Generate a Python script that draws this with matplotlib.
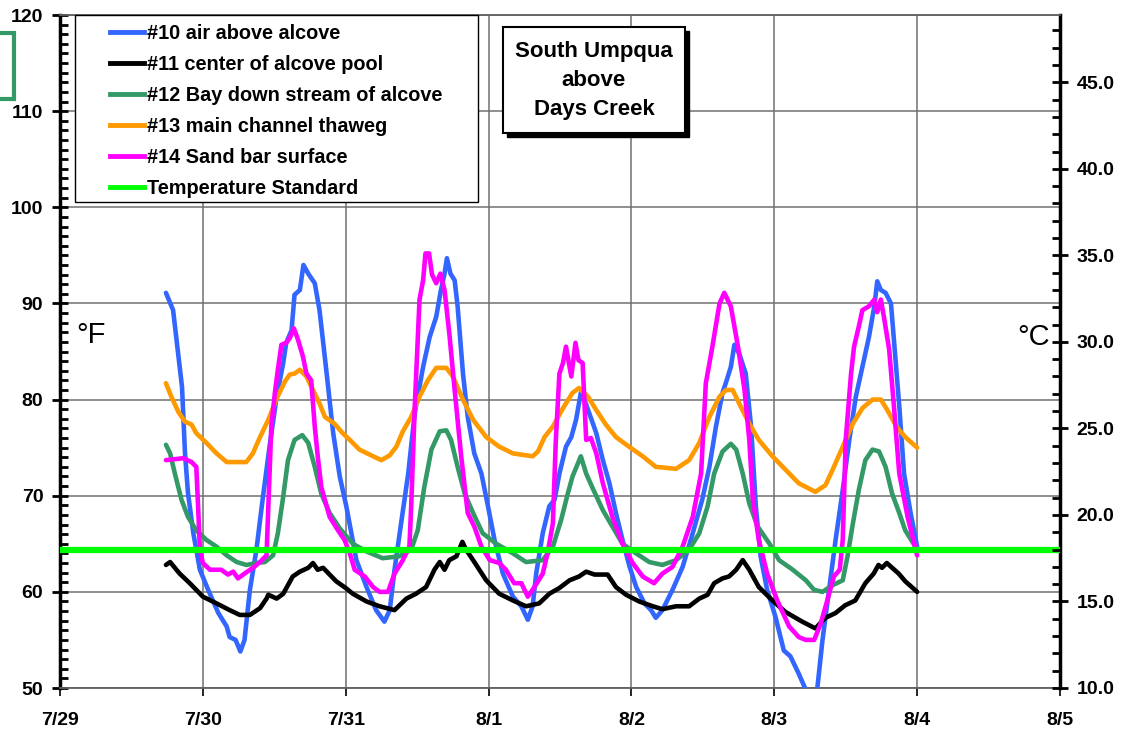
import numpy as np
import matplotlib
matplotlib.use("Agg")
import matplotlib.pyplot as plt
from matplotlib.patches import Rectangle
from matplotlib.lines import Line2D
from matplotlib.ticker import MultipleLocator, FuncFormatter

plt.rcParams['font.family'] = ['Liberation Sans', 'DejaVu Sans']

# hours since 7/29 00:00 and temperatures in deg F
air_h = [17.8, 19.0, 19.9, 20.5, 21.0, 21.5, 22.4, 23.5, 24.9, 26.6,
         28.0, 28.5, 29.5, 30.3, 31.0, 31.9, 33.0, 34.1, 35.2, 36.4,
         37.5, 38.0, 38.9, 39.4, 40.3, 40.9, 41.7, 42.8, 43.6, 44.8,
         45.9, 47.0, 48.1, 49.8, 51.5, 53.1, 54.5, 55.4, 56.2, 57.3,
         58.5, 59.6, 61.0, 62.1, 63.2, 64.0, 64.6, 65.0, 65.6, 66.3,
         66.8, 67.7, 68.5, 69.6, 70.8, 71.9, 73.0, 74.4, 76.1, 77.5,
         78.6, 79.4, 80.0, 81.1, 82.2, 83.1, 83.9, 85.0, 85.9, 86.7,
         87.5, 88.1, 88.9, 90.1, 91.2, 92.3, 93.4, 94.5, 95.7, 96.8,
         98.2, 99.3, 100.1, 101.2, 102.9, 104.6, 106.3, 107.9, 109.1, 110.2,
         111.3, 112.0, 112.7, 113.3, 114.1, 115.2, 116.1, 116.9, 117.7, 118.8,
         120.2, 121.6, 122.7, 124.1, 125.3, 126.2, 127.2, 128.1, 129.2, 130.3,
         131.5, 132.6, 133.7, 134.8, 135.9, 136.8, 137.3, 137.9, 138.7, 139.6,
         140.1, 141.0, 141.8, 142.9, 144.0]
air_f = [91.1, 89.3, 84.5, 81.3, 74.4, 70.3, 66.1, 62.3, 60.2, 57.8,
         56.4, 55.3, 55.0, 53.8, 55.0, 60.2, 64.4, 69.9, 75.1, 80.3,
         83.8, 85.9, 87.2, 90.9, 91.4, 94.0, 93.1, 92.1, 89.3, 82.7,
         76.5, 72.0, 68.9, 63.3, 60.5, 58.1, 56.9, 58.1, 62.3, 67.1,
         72.3, 78.6, 83.4, 86.5, 88.6, 91.4, 93.1, 94.7, 93.1, 92.4,
         89.7, 82.7, 78.2, 74.4, 72.3, 68.9, 65.4, 61.9, 59.5, 58.5,
         57.1, 58.5, 61.9, 66.1, 68.9, 69.6, 72.3, 75.1, 76.1, 77.9,
         80.7, 80.0, 78.6, 76.5, 73.7, 71.3, 68.2, 65.4, 62.6, 60.5,
         58.8, 58.1, 57.3, 58.1, 60.2, 62.6, 66.1, 69.6, 73.0, 77.2,
         80.7, 82.0, 83.4, 85.7, 84.8, 82.7, 77.2, 68.9, 63.7, 60.2,
         57.4, 53.9, 53.3, 51.5, 49.8, 47.5, 49.8, 55.0, 60.2, 65.4,
         70.6, 75.8, 80.3, 83.4, 86.5, 89.7, 92.3, 91.4, 91.1, 90.0,
         86.2, 79.3, 72.3, 68.2, 64.7]

pool_h = [17.8, 18.5, 20.1, 21.8, 24.0, 26.3, 28.5, 30.2, 31.9, 33.6,
          34.7, 35.0, 36.4, 37.5, 39.1, 40.3, 41.7, 42.5, 43.3, 44.2,
          46.4, 48.0, 49.2, 51.5, 53.7, 56.2, 58.2, 59.8, 61.5, 62.9,
          63.8, 64.6, 65.4, 66.6, 67.6, 68.2, 69.4, 71.6, 73.8, 76.1,
          78.3, 80.5, 82.2, 83.9, 85.6, 87.2, 88.4, 89.8, 92.0, 93.4,
          95.1, 97.3, 99.6, 101.2, 103.5, 105.7, 107.4, 108.8, 109.9, 111.3,
          112.4, 113.6, 114.7, 115.8, 117.4, 119.7, 121.9, 124.7, 126.9, 128.6,
          130.3, 131.9, 133.6, 135.3, 136.7, 137.5, 138.1, 138.9, 140.9, 142.0,
          144.0]
pool_f = [62.8, 63.1, 61.9, 60.9, 59.5, 58.8, 58.1, 57.6, 57.6, 58.3,
          59.3, 59.7, 59.3, 59.8, 61.6, 62.1, 62.5, 63.0, 62.3, 62.5,
          61.1, 60.4, 59.8, 59.0, 58.5, 58.1, 59.3, 59.8, 60.5, 62.3,
          63.1, 62.3, 63.3, 63.7, 65.2, 64.4, 63.3, 61.2, 59.8, 59.1,
          58.5, 58.8, 59.8, 60.4, 61.2, 61.6, 62.1, 61.8, 61.8, 60.5,
          59.7, 59.0, 58.5, 58.2, 58.5, 58.5, 59.3, 59.7, 60.9, 61.4,
          61.6, 62.3, 63.3, 62.3, 60.5, 59.1, 57.9, 56.9, 56.2, 57.3,
          57.8, 58.6, 59.1, 60.9, 61.9, 62.8, 62.5, 63.0, 61.9, 61.1,
          60.0]

bay_h = [17.8, 18.5, 19.3, 20.4, 21.5, 22.9, 24.6, 26.3, 28.0, 29.7,
         31.3, 33.0, 34.4, 35.8, 36.6, 37.5, 38.3, 39.4, 40.7, 41.7,
         42.8, 43.9, 45.3, 47.0, 49.2, 51.5, 54.2, 57.0, 59.0, 60.1,
         61.2, 62.4, 63.8, 64.9, 65.7, 66.8, 68.0, 69.4, 71.0, 73.3,
         76.1, 78.3, 81.1, 82.8, 84.2, 85.3, 86.1, 87.5, 88.4, 89.4,
         91.2, 92.8, 94.5, 96.8, 99.0, 101.2, 103.5, 105.7, 107.4, 108.8,
         109.9, 111.3, 112.7, 113.6, 114.7, 115.8, 117.2, 119.2, 120.8, 123.1,
         125.3, 126.7, 128.1, 129.8, 131.5, 132.3, 133.2, 134.2, 135.3, 136.5,
         137.6, 138.7, 139.8, 141.0, 142.0, 144.0]
bay_f = [75.3, 74.4, 72.3, 69.6, 67.8, 66.4, 65.4, 64.7, 63.8, 63.1,
         62.8, 63.0, 63.1, 63.8, 66.1, 69.9, 73.7, 75.8, 76.3, 75.5,
         73.0, 70.2, 68.2, 66.6, 65.0, 64.2, 63.5, 63.7, 64.4, 66.4,
         70.9, 74.8, 76.7, 76.8, 75.8, 73.0, 70.2, 68.2, 66.1, 65.0,
         64.0, 63.1, 63.3, 64.7, 67.5, 70.2, 72.0, 74.1, 72.3, 70.9,
         68.5, 66.8, 65.0, 64.0, 63.1, 62.8, 63.3, 64.4, 66.1, 68.9,
         72.3, 74.6, 75.4, 74.8, 72.3, 69.2, 66.8, 65.0, 63.3, 62.3,
         61.2, 60.2, 60.0, 60.7, 61.2, 63.7, 67.1, 70.6, 73.7, 74.8,
         74.6, 73.0, 70.2, 68.2, 66.4, 64.4]

thalweg_h = [17.8, 18.7, 19.9, 21.0, 22.1, 22.9, 24.6, 26.3, 28.0, 31.3,
             32.4, 33.6, 35.0, 36.4, 37.8, 38.6, 39.4, 40.3, 41.4, 42.5,
             43.6, 44.5, 46.1, 47.5, 48.7, 50.3, 52.6, 54.0, 55.4, 56.5,
             57.6, 59.0, 60.4, 61.8, 63.2, 64.9, 66.0, 67.7, 69.4, 71.6,
             73.8, 76.1, 79.4, 80.3, 81.4, 82.8, 84.5, 86.1, 87.2, 88.7,
             90.1, 91.7, 93.4, 95.6, 97.9, 100.1, 103.5, 105.7, 107.4, 109.1,
             110.8, 111.9, 113.0, 114.1, 115.8, 117.4, 119.7, 121.9, 124.1, 126.9,
             128.6, 129.8, 131.5, 133.2, 134.8, 136.5, 137.9, 139.0, 140.5, 142.0,
             144.0]
thalweg_f = [81.7, 80.3, 78.7, 77.7, 77.4, 76.5, 75.5, 74.4, 73.5, 73.5,
             74.4, 76.1, 77.9, 80.1, 81.9, 82.6, 82.7, 83.1, 82.4, 81.0,
             79.6, 78.2, 77.5, 76.5, 75.8, 74.8, 74.1, 73.7, 74.2, 75.1,
             76.7, 78.2, 80.3, 82.0, 83.3, 83.3, 82.4, 80.0, 77.9, 76.1,
             75.1, 74.4, 74.1, 74.6, 76.1, 77.2, 79.1, 80.7, 81.2, 80.3,
             78.9, 77.4, 76.1, 75.1, 74.1, 73.0, 72.8, 73.7, 75.5, 78.2,
             80.3, 81.0, 81.0, 79.6, 77.5, 75.8, 74.1, 72.7, 71.3, 70.4,
             71.1, 72.7, 75.1, 77.5, 79.1, 80.0, 80.0, 78.9, 77.2, 76.1,
             75.0]

sand_h = [17.8, 20.7, 22.1, 22.9, 23.2, 23.5, 24.0, 25.2, 27.1, 28.2,
          29.1, 29.9, 31.0, 32.4, 33.6, 34.7, 35.0, 35.5, 36.1, 36.6,
          37.2, 38.0, 38.6, 39.3, 40.0, 40.8, 41.4, 42.2, 42.8, 43.3,
          43.9, 45.3, 46.7, 47.8, 48.7, 49.5, 51.2, 52.6, 53.7, 55.1,
          56.2, 57.6, 58.7, 59.0, 59.6, 60.4, 61.0, 61.4, 62.0, 62.5,
          63.2, 63.9, 64.6, 65.4, 66.3, 67.4, 68.5, 69.6, 70.8, 72.2,
          73.8, 74.9, 76.3, 77.5, 78.6, 79.7, 81.1, 81.9, 82.8, 83.3,
          83.9, 84.5, 85.0, 85.9, 86.6, 87.1, 87.8, 88.4, 89.2, 90.1,
          91.2, 92.8, 94.5, 96.2, 97.9, 99.8, 101.2, 102.9, 104.6, 106.3,
          107.7, 108.5, 109.6, 110.8, 111.6, 112.7, 113.9, 115.0, 115.8, 116.4,
          117.4, 118.8, 120.5, 122.5, 124.1, 125.3, 126.7, 127.8, 128.9, 130.0,
          131.0, 131.5, 132.0, 132.9, 133.4, 134.2, 134.8, 135.9, 136.8, 137.3,
          137.9, 138.5, 139.3, 140.1, 141.0, 142.4, 144.0]
sand_f = [73.7, 73.9, 73.5, 73.0, 68.9, 64.4, 63.0, 62.3, 62.3, 61.8,
          62.1, 61.4, 61.9, 62.5, 63.1, 63.8, 68.9, 77.2, 80.7, 83.1,
          85.7, 85.9, 86.4, 87.4, 86.2, 84.5, 82.7, 82.0, 77.2, 74.1,
          70.9, 67.8, 66.4, 65.4, 64.0, 62.3, 61.6, 60.5, 60.0, 60.0,
          61.9, 63.3, 64.7, 68.9, 79.3, 90.4, 92.4, 95.2, 95.2, 93.0,
          92.1, 93.1, 91.4, 86.9, 81.0, 74.1, 68.2, 66.8, 64.7, 63.3,
          63.0, 62.3, 60.9, 60.9, 59.5, 60.5, 61.9, 64.0, 67.1, 75.8,
          82.7, 83.8, 85.5, 82.4, 85.9, 84.1, 83.8, 75.8, 76.0, 74.4,
          71.3, 67.8, 65.0, 63.0, 61.6, 60.9, 61.9, 62.6, 64.7, 67.8,
          72.3, 81.7, 85.5, 90.0, 91.1, 89.7, 85.5, 81.0, 75.8, 69.6,
          65.4, 61.9, 59.1, 56.4, 55.3, 55.0, 55.0, 56.7, 59.1, 61.6,
          62.3, 65.4, 75.8, 82.7, 85.5, 87.6, 89.3, 89.7, 90.4, 89.1,
          90.4, 88.3, 85.2, 79.3, 72.3, 67.8, 63.8]

standard_f = 64.4  # 18 C

day_labels = ['7/29', '7/30', '7/31', '8/1', '8/2', '8/3', '8/4', '8/5']

series = [
    (air_h, air_f, '#10 air above alcove', '#3366FF'),
    (pool_h, pool_f, '#11 center of alcove pool', '#000000'),
    (bay_h, bay_f, '#12 Bay down stream of alcove', '#339966'),
    (thalweg_h, thalweg_f, '#13 main channel thaweg', '#FF9900'),
    (sand_h, sand_f, '#14 Sand bar surface', '#FF00FF'),
]
std_color = '#00FF00'

W, H = 1124, 732


def fx(px):
    return px / W


def fy(py):
    return 1 - py / H


fig = plt.figure(figsize=(W / 100, H / 100), dpi=100)
ax = fig.add_axes([fx(60), fy(688), (1060 - 60) / W, (688 - 15) / H])

for h, f, label, color in series:
    ax.plot(np.array(h) / 24.0, f, color=color, lw=3.3, solid_joinstyle='round',
            solid_capstyle='round', zorder=3)
ax.axhline(standard_f, color=std_color, lw=4.5, zorder=4)

ax.set_xlim(0, 7)
ax.set_ylim(50, 120)
ax.set_xticks(range(len(day_labels)))
ax.set_xticklabels(day_labels)
ax.set_yticks(range(50, 121, 10))
ax.yaxis.set_minor_locator(MultipleLocator(1))
ax.grid(True, which='major', color='#707070', lw=1.1, zorder=1)

for lab in ax.get_xticklabels() + ax.get_yticklabels():
    lab.set_fontweight('bold')
    lab.set_fontsize(14)

ax.tick_params(axis='y', which='major', direction='inout', length=12, width=2,
               pad=6)
ax.tick_params(axis='y', which='minor', direction='in', length=6, width=2)
ax.tick_params(axis='x', which='major', direction='out', length=6, width=1.2,
               pad=11)
ax.spines['left'].set_linewidth(2.5)
ax.spines['right'].set_linewidth(2.5)
ax.spines['top'].set_color('#606060')
ax.spines['top'].set_linewidth(1.3)
ax.spines['bottom'].set_color('#606060')
ax.spines['bottom'].set_linewidth(1.3)

# Celsius axis on the right
ax2 = ax.twinx()
ax2.set_ylim((50 - 32) * 5 / 9, (120 - 32) * 5 / 9)
ax2.set_yticks(np.arange(10, 46, 5))
ax2.yaxis.set_minor_locator(MultipleLocator(1))
ax2.yaxis.set_major_formatter(FuncFormatter(lambda v, p: f'{v:.1f}'))
ax2.tick_params(axis='y', which='major', direction='inout', length=12, width=2,
                pad=6, labelsize=14)
ax2.tick_params(axis='y', which='minor', direction='in', length=6, width=2)
for lab in ax2.get_yticklabels():
    lab.set_fontweight('bold')
for s in ax2.spines.values():
    s.set_visible(False)

ax.text(0.016, 0.513, '°F', transform=ax.transAxes, fontsize=21,
        ha='left', va='baseline', zorder=6)
ax.text(0.99, 0.51, '°C', transform=ax.transAxes, fontsize=21,
        ha='right', va='baseline', zorder=6)

# legend frame + entries
fig.add_artist(Rectangle((fx(75), fy(202)), (478 - 75) / W, (202 - 15) / H,
                         transform=fig.transFigure, facecolor='white',
                         edgecolor='black', lw=1, zorder=5))
handles = [Line2D([], [], color=c, lw=3.5) for _, _, _, c in series]
handles.append(Line2D([], [], color=std_color, lw=3.5))
labels = [lab for _, _, lab, _ in series] + ['Temperature Standard']
leg = fig.legend(handles, labels, loc='upper left',
                 bbox_to_anchor=(fx(110), fy(24)), frameon=False,
                 borderpad=0, borderaxespad=0, handlelength=1.7,
                 handletextpad=0.15, labelspacing=0.6,
                 prop={'weight': 'bold', 'size': 14.3})
leg.set_zorder(6)

# site title box with shadow
fig.add_artist(Rectangle((fx(507), fy(137)), (685 - 503) / W, (133 - 27) / H,
                         transform=fig.transFigure, facecolor='black',
                         edgecolor='black', lw=1, zorder=5))
fig.add_artist(Rectangle((fx(503), fy(133)), (685 - 503) / W, (133 - 27) / H,
                         transform=fig.transFigure, facecolor='white',
                         edgecolor='black', lw=1.5, zorder=6))
fig.text(fx(594), fy(80), 'South Umpqua\nabove\nDays Creek', ha='center',
         va='center', fontsize=16, fontweight='bold', linespacing=1.5,
         zorder=7)

# stray box at the top-left edge
fig.add_artist(Rectangle((fx(-20), fy(99)), (14 + 20) / W, (99 - 33) / H,
                         transform=fig.transFigure, fill=False,
                         edgecolor='#339966', lw=3, zorder=5))

fig.savefig('out.png', dpi=100)
